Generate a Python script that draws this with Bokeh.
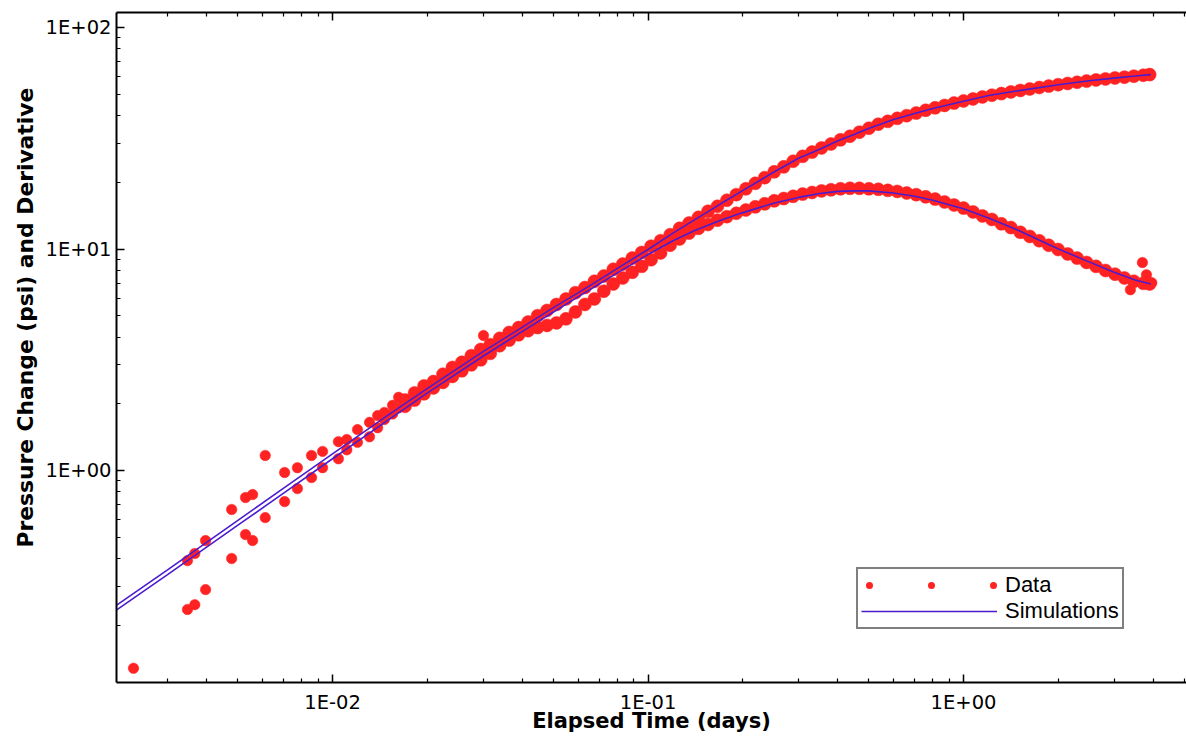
import numpy as np
from bokeh.plotting import figure
from bokeh.models import (FixedTicker, LogAxis, CustomJSTickFormatter, Legend,
                          LegendItem, Title)
from bokeh.embed import file_html
from bokeh.resources import INLINE

# ---------------- data ----------------
# early, noisy points: pressure change and derivative at the same times
early_time = [0.00347, 0.00366, 0.00396, 0.00479, 0.0053, 0.00558, 0.00612, 0.00705,
              0.00774, 0.00858, 0.0093, 0.01044, 0.0111, 0.0120, 0.0131, 0.0139,
              0.0146, 0.0155, 0.0162]
early_pressure = [0.392, 0.422, 0.483, 0.667, 0.755, 0.779, 1.17, 0.98,
                  1.03, 1.17, 1.22, 1.35, 1.38, 1.53, 1.65, 1.77,
                  1.83, 1.97, 2.14]
early_derivative = [0.236, 0.248, 0.290, 0.401, 0.514, 0.483, 0.613, 0.724,
                    0.829, 0.930, 1.03, 1.13, 1.24, 1.34, 1.42, 1.56,
                    1.70, 1.80, 1.92]

# isolated points
outlier_time = [0.00234, 0.0301, 3.38, 3.69, 3.80, 3.95]
outlier_value = [0.128, 4.07, 6.55, 8.69, 7.65, 7.05]

# dense measured band
data_time = [0.01698, 0.0182, 0.0195, 0.02089, 0.02239, 0.02399, 0.0257, 0.02754,
             0.02951, 0.03162, 0.03388, 0.03631, 0.0389, 0.04169, 0.04467, 0.04786,
             0.05129, 0.05495, 0.05888, 0.0631, 0.06761, 0.07244, 0.07762, 0.08318,
             0.08913, 0.0955, 0.1023, 0.1096, 0.1175, 0.1259, 0.1349, 0.1445,
             0.1549, 0.166, 0.1778, 0.1905, 0.2042, 0.2188, 0.2344, 0.2512,
             0.2692, 0.2884, 0.309, 0.3311, 0.3548, 0.3802, 0.4074, 0.4365,
             0.4677, 0.5012, 0.537, 0.5754, 0.6166, 0.6607, 0.7079, 0.7586,
             0.8128, 0.871, 0.9333, 1.0, 1.072, 1.148, 1.23, 1.318,
             1.413, 1.514, 1.622, 1.738, 1.862, 1.995, 2.138, 2.291,
             2.455, 2.63, 2.818, 3.02, 3.236, 3.467, 3.715, 3.89]
pressure_data = [2.08, 2.24, 2.41, 2.52, 2.72, 2.92, 3.08, 3.30,
                 3.52, 3.70, 3.95, 4.20, 4.42, 4.68, 5.00, 5.28,
                 5.62, 5.95, 6.35, 6.70, 7.15, 7.55, 8.10, 8.55,
                 9.10, 9.65, 10.3, 10.9, 11.6, 12.4, 13.1, 13.9,
                 14.8, 15.6, 16.6, 17.6, 18.7, 19.8, 21.0, 22.3,
                 23.5, 24.9, 26.2, 27.4, 28.6, 29.8, 31.1, 32.3,
                 33.7, 35.1, 36.6, 37.7, 38.9, 40.0, 41.1, 42.3,
                 43.4, 44.5, 45.6, 46.6, 47.6, 48.6, 49.5, 50.3,
                 51.2, 52.0, 52.8, 53.6, 54.4, 55.2, 55.9, 56.6,
                 57.3, 58.0, 58.6, 59.2, 59.7, 60.3, 60.9, 61.3]
derivative_data = [1.95, 2.08, 2.22, 2.36, 2.50, 2.66, 2.82, 3.00,
                   3.16, 3.38, 3.66, 3.88, 4.10, 4.28, 4.42, 4.52,
                   4.64, 4.84, 5.20, 5.62, 5.95, 6.45, 6.95, 7.40,
                   7.85, 8.35, 8.95, 9.60, 10.4, 11.1, 11.8, 12.4,
                   12.9, 13.5, 14.0, 14.5, 15.0, 15.5, 16.0, 16.5,
                   16.9, 17.3, 17.7, 18.0, 18.3, 18.5, 18.7, 18.8,
                   18.8, 18.7, 18.6, 18.4, 18.2, 17.9, 17.6, 17.2,
                   16.8, 16.3, 15.8, 15.3, 14.7, 14.1, 13.6, 13.0,
                   12.5, 11.9, 11.4, 10.9, 10.4, 9.95, 9.50, 9.10,
                   8.70, 8.35, 8.00, 7.70, 7.40, 7.15, 7.00, 6.95]

# simulated curves
sim_time = [0.00207, 0.003, 0.005, 0.007, 0.01, 0.015, 0.02, 0.03, 0.04, 0.05, 0.06,
            0.07, 0.08, 0.1, 0.12, 0.14, 0.17, 0.2, 0.25, 0.3, 0.35, 0.4, 0.45,
            0.5, 0.6, 0.7, 0.8, 1.0, 1.2, 1.5, 2.0, 2.5, 3.0, 3.5, 3.92]
sim_pressure = [0.247, 0.356, 0.594, 0.832, 1.19, 1.78, 2.35, 3.44, 4.44, 5.42, 6.34,
                7.26, 8.18, 9.95, 11.8, 13.5, 16.0, 18.4, 22.2, 25.7, 28.2, 30.8, 32.9,
                35.0, 38.4, 40.9, 43.1, 46.5, 49.3, 51.9, 55.2, 57.5, 59.1, 60.4, 61.3]
sim_derivative = [0.235, 0.339, 0.565, 0.79, 1.13, 1.69, 2.24, 3.28, 4.25, 5.18, 6.08,
                  6.95, 7.80, 9.45, 10.9, 12.1, 13.5, 14.6, 16.1, 17.1, 17.8, 18.2, 18.3,
                  18.3, 17.9, 17.3, 16.6, 15.2, 13.8, 12.1, 10.0, 8.75, 7.85, 7.25, 6.95]

x_major = [0.01, 0.1, 1.0]
x_minor = [0.003, 0.004, 0.005, 0.006, 0.007, 0.008, 0.009,
           0.02, 0.03, 0.04, 0.05, 0.06, 0.07, 0.08, 0.09,
           0.2, 0.3, 0.4, 0.5, 0.6, 0.7, 0.8, 0.9, 2.0, 3.0, 4.0, 5.0]
y_major = [1.0, 10.0, 100.0]
y_minor = [0.2, 0.3, 0.4, 0.5, 0.6, 0.7, 0.8, 0.9,
           2, 3, 4, 5, 6, 7, 8, 9, 20, 30, 40, 50, 60, 70, 80, 90]

RED = "#ff2222"
BLUE = "#4b1ccf"
TICK_FONT = "DejaVu Sans"

# ---------------- figure ----------------
p = figure(width=1186, height=736, x_axis_type="log", y_axis_type="log",
           x_range=(0.002067, 5.09), y_range=(0.1104, 116.9),
           output_backend="svg", toolbar_location=None,
           min_border_left=116, min_border_right=0, min_border_top=12,
           min_border_bottom=54)
p.grid.visible = False
p.outline_line_color = None
p.background_fill_color = "white"
p.border_fill_color = "white"

fmt_code = """
const e = Math.round(Math.log10(tick));
const a = Math.abs(e);
return "1E" + (e < 0 ? "-" : "+") + (a < 10 ? "0" : "") + a;
"""


def style_axis(ax, major, minor):
    ax.ticker = FixedTicker(ticks=major, minor_ticks=minor)
    ax.axis_line_color = "black"
    ax.axis_line_width = 2
    ax.major_tick_in = 8
    ax.major_tick_out = 0
    ax.minor_tick_in = 4
    ax.minor_tick_out = 0
    ax.major_tick_line_color = "black"
    ax.minor_tick_line_color = "black"
    ax.major_tick_line_width = 1.5
    ax.minor_tick_line_width = 1.2
    ax.major_label_text_font = TICK_FONT
    ax.major_label_text_font_size = "19.5px"
    ax.major_label_text_color = "black"


xa = p.xaxis[0]
style_axis(xa, x_major, x_minor)
xa.formatter = CustomJSTickFormatter(code=fmt_code)
xa.major_label_standoff = 8
xa.axis_label = "Elapsed Time (days)"
xa.axis_label_text_font = "DejaVu Sans"
xa.axis_label_text_font_style = "bold"
xa.axis_label_text_font_size = "21px"
xa.axis_label_text_color = "black"
xa.axis_label_standoff = -8

ya = p.yaxis[0]
style_axis(ya, y_major, y_minor)
ya.formatter = CustomJSTickFormatter(code=fmt_code)
ya.major_label_standoff = 5

top = LogAxis()
style_axis(top, x_major, x_minor)
top.formatter = CustomJSTickFormatter(code="return '';")
top.major_label_text_font_size = "1px"
top.major_label_standoff = 0
p.add_layout(top, "above")

p.add_layout(Title(text="Pressure Change (psi) and Derivative", align="left",
                   offset=135, text_font="DejaVu Sans", text_font_style="bold",
                   text_font_size="21.8px", text_color="black", standoff=10), "left")

# ---------------- marks ----------------
for tx, ty in ((early_time, early_pressure), (early_time, early_derivative),
               (outlier_time, outlier_value)):
    p.scatter(x=tx, y=ty, size=10.5, fill_color=RED, line_color=RED, line_width=0.5)
for tx, ty in ((data_time, pressure_data), (data_time, derivative_data)):
    p.scatter(x=tx, y=ty, size=13, fill_color=RED, line_color=RED, line_width=0.5)

sim_p = p.line(x=sim_time, y=sim_pressure, line_color=BLUE, line_width=1.6)
p.line(x=sim_time, y=sim_derivative, line_color=BLUE, line_width=1.6)

# legend sample for "Data": three dots drawn by a dotted line style
dots = p.line(x=[np.nan], y=[np.nan], line_color=RED, line_width=7,
              line_dash="0 62", line_dash_offset=54, line_cap="round")

legend = Legend(items=[LegendItem(label="Data", renderers=[dots]),
                       LegendItem(label="Simulations", renderers=[sim_p])],
                location=(740, 53), orientation="vertical")
legend.border_line_color = "black"
legend.border_line_width = 2
legend.background_fill_color = "white"
legend.background_fill_alpha = 1
legend.padding = 3
legend.spacing = 0
legend.margin = 0
legend.glyph_width = 136
legend.glyph_height = 18
legend.label_height = 18
legend.label_standoff = 8
legend.label_text_font = "Liberation Sans"
legend.label_text_font_size = "22px"
legend.label_text_color = "black"
legend.label_text_line_height = 1.0
p.add_layout(legend, "center")

open("out.html", "w").write(file_html(p, INLINE))
